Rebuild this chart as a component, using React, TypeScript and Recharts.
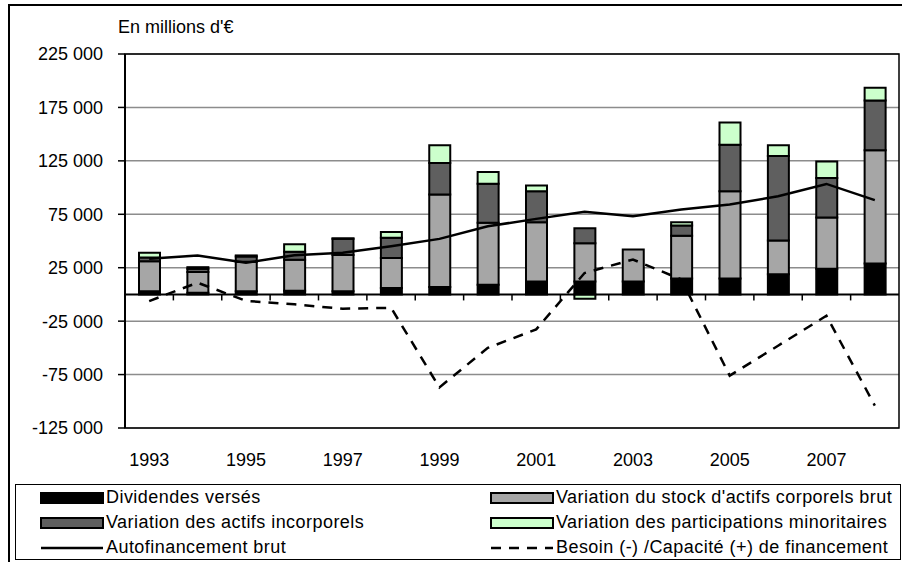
import React from "react";
import {
  ComposedChart,
  Bar,
  Line,
  XAxis,
  YAxis,
  CartesianGrid,
  ReferenceLine,
  ReferenceArea,
} from "recharts";

const years = ["1993", "1994", "1995", "1996", "1997", "1998", "1999", "2000", "2001", "2002", "2003", "2004", "2005", "2006", "2007", "2008"];
const dividends = [3000, 1500, 3000, 3500, 3000, 6000, 7000, 9000, 12000, 12000, 12000, 15000, 15000, 19000, 24000, 29000];
const tangible = [28000, 19500, 27500, 29000, 34000, 28000, 86500, 58000, 55500, 36000, 30000, 40000, 81500, 31500, 48000, 106000];
const intangible = [3500, 3000, 5000, 7500, 15000, 19000, 29500, 36500, 29000, 14000, 0, 9500, 43500, 79000, 37000, 46500];
const minority = [4500, 1500, 1000, 7000, 500, 5500, 16500, 11000, 5500, -4000, 0, 3000, 21000, 10000, 15500, 12000];
const autofinancement = [33500, 36500, 29600, 36700, 39000, 45000, 52000, 63800, 70700, 77300, 73200, 79400, 84100, 91900, 103400, 88200];
const besoin = [-6200, 11000, -6000, -9300, -13400, -12500, -87000, -50000, -32700, 20000, 32700, 14000, -76000, -48000, -20000, -104000];
const yTicks = [-125000, -75000, -25000, 25000, 75000, 125000, 175000, 225000];

const data = years.map((year, i) => ({
  year,
  dividends: dividends[i],
  tangible: tangible[i],
  intangible: intangible[i],
  minority: minority[i],
  autofinancement: autofinancement[i],
  besoin: besoin[i],
}));

const FONT = "'Liberation Sans', Arial, sans-serif";
const PLOT_TOP = 54;
const PLOT_BOTTOM = 428;
const PLOT_LEFT = 125;
const PLOT_RIGHT = 899;
const Y_MIN = -125000;
const Y_MAX = 225000;

const fmt = (v: number) => String(v).replace(/\B(?=(\d{3})+(?!\d))/g, " ");

function YearTick(props: any) {
  const { x, payload, index } = props;
  const band = (PLOT_RIGHT - PLOT_LEFT) / years.length;
  const zeroY = PLOT_TOP + ((PLOT_BOTTOM - PLOT_TOP) * Y_MAX) / (Y_MAX - Y_MIN);
  return (
    <g>
      {index > 0 && (
        <line x1={x - band / 2} x2={x - band / 2} y1={zeroY} y2={zeroY + 6} stroke="#000" strokeWidth={1.5} />
      )}
      {index % 2 === 0 && (
        <text x={x} y={PLOT_BOTTOM + 32} textAnchor="middle" dominantBaseline="central" fontSize={18} fontFamily={FONT} fill="#000">
          {payload.value}
        </text>
      )}
    </g>
  );
}

function BarIcon({ fill }: { fill: string }) {
  return (
    <svg width={64} height={14} style={{ display: "block" }}>
      <rect x={1} y={2} width={62} height={10} fill={fill} stroke="#000" strokeWidth={2} />
    </svg>
  );
}

function LineIcon({ dashed }: { dashed?: boolean }) {
  return (
    <svg width={64} height={14} style={{ display: "block" }}>
      <line x1={1} x2={63} y1={7} y2={7} stroke="#000" strokeWidth={2.5} strokeDasharray={dashed ? "10 8" : undefined} />
    </svg>
  );
}

const legendLeft = [
  { label: "Dividendes versés", icon: <BarIcon fill="#000" /> },
  { label: "Variation des actifs incorporels", icon: <BarIcon fill="#5f5f5f" /> },
  { label: "Autofinancement brut", icon: <LineIcon /> },
];
const legendRight = [
  { label: "Variation du stock d'actifs corporels brut", icon: <BarIcon fill="#a6a6a6" /> },
  { label: "Variation des participations minoritaires", icon: <BarIcon fill="#ccffcc" /> },
  { label: "Besoin (-) /Capacité (+) de financement", icon: <LineIcon dashed /> },
];

function LegendColumn({ items, left }: { items: { label: string; icon: React.ReactNode }[]; left: number }) {
  return (
    <div style={{ position: "absolute", left, top: 0 }}>
      {items.map((it) => (
        <div key={it.label} style={{ display: "flex", alignItems: "center", height: 25, whiteSpace: "nowrap" }}>
          {it.icon}
          <span style={{ marginLeft: 2, fontSize: 18, lineHeight: "25px", letterSpacing: 0.45 }}>{it.label}</span>
        </div>
      ))}
    </div>
  );
}

export default function App() {
  return (
    <div style={{ position: "absolute", left: 0, top: 0, width: 902, height: 562, overflow: "hidden", background: "#fff", fontFamily: FONT, color: "#000" }}>
      <div style={{ position: "absolute", left: 8, top: 4, width: 900, height: 570, border: "2px solid #000", boxSizing: "border-box" }} />
      <div style={{ position: "absolute", left: 118, top: 16, fontSize: 18, lineHeight: "22px" }}>En millions d'€</div>
      <ComposedChart
        width={902}
        height={562}
        data={data}
        stackOffset="sign"
        margin={{ top: PLOT_TOP, right: 902 - PLOT_RIGHT, left: 10, bottom: 562 - PLOT_BOTTOM - 40 }}
        style={{ position: "absolute", left: 0, top: 0 }}
      >
        <CartesianGrid vertical={false} stroke="#8c8c8c" strokeWidth={1.5} />
        <XAxis dataKey="year" interval={0} axisLine={false} tickLine={false} height={40} tick={<YearTick />} />
        <YAxis
          width={115}
          domain={[Y_MIN, Y_MAX]}
          ticks={yTicks}
          tickFormatter={fmt}
          axisLine={{ stroke: "#000", strokeWidth: 2 }}
          tickLine={{ stroke: "#000", strokeWidth: 1.5 }}
          tickSize={7}
          tickMargin={15}
          tick={{ fontSize: 18, fill: "#000", fontFamily: FONT }}
        />
        <ReferenceArea y1={Y_MIN} y2={Y_MAX} fill="none" stroke="#000" strokeWidth={1.5} />
        <Bar dataKey="dividends" stackId="a" fill="#000" stroke="#000" strokeWidth={2} barSize={21} isAnimationActive={false} />
        <Bar dataKey="tangible" stackId="a" fill="#a6a6a6" stroke="#000" strokeWidth={2} barSize={21} isAnimationActive={false} />
        <Bar dataKey="intangible" stackId="a" fill="#5f5f5f" stroke="#000" strokeWidth={2} barSize={21} isAnimationActive={false} />
        <Bar dataKey="minority" stackId="a" fill="#ccffcc" stroke="#000" strokeWidth={2} barSize={21} isAnimationActive={false} />
        <ReferenceLine y={0} stroke="#000" strokeWidth={2} />
        <Line type="linear" dataKey="autofinancement" stroke="#000" strokeWidth={2.5} dot={false} isAnimationActive={false} />
        <Line type="linear" dataKey="besoin" stroke="#000" strokeWidth={2.5} strokeDasharray="10 8" dot={false} isAnimationActive={false} />
      </ComposedChart>
      <div style={{ position: "absolute", left: 15, top: 484, width: 886, height: 76, border: "1.5px solid #000", boxSizing: "border-box" }}>
        <LegendColumn items={legendLeft} left={24} />
        <LegendColumn items={legendRight} left={474} />
      </div>
    </div>
  );
}
